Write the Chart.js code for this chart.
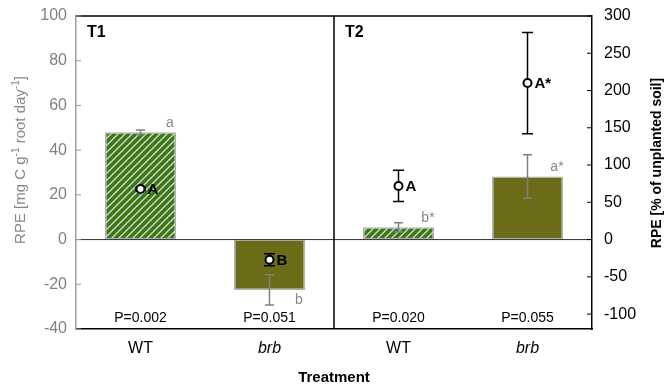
<!DOCTYPE html>
<html>
<head>
<meta charset="utf-8">
<script src="https://cdn.jsdelivr.net/npm/chart.js@4.4.1/dist/chart.umd.min.js"></script>
<style>
  html, body { margin: 0; padding: 0; background: #fff; }
  #wrap { width: 665px; height: 389px; }
</style>
</head>
<body>
<div id="wrap"><canvas id="rpe"></canvas></div>
<script>
// treatments, first pair is T1, second pair is T2
const treatments = ['WT', 'brb', 'WT', 'brb'];
const panels = ['T1', 'T2'];
// RPE [mg C g-1 root day-1] -> bars, left axis
const rpeAbs = [48, -22.5, 5.5, 28.2];
const rpeAbsErr = [1, 6.8, 2, 9.7];
const rpeAbsLetters = ['a', 'b', 'b*', 'a*'];
// RPE [% of unplanted soil] -> circles, right axis
const rpeRel = [68, -27, 72, 210];
const rpeRelErr = [2, 8, 21, 68];
const rpeRelLetters = ['A', 'B', 'A', 'A*'];
const pValues = ['P=0.002', 'P=0.051', 'P=0.020', 'P=0.055'];
const leftTicks = [-40, -20, 0, 20, 40, 60, 80, 100];
const rightTicks = [-100, -50, 0, 50, 100, 150, 200, 250, 300];

const FONT = "'Liberation Sans', Arial, sans-serif";
Chart.defaults.font.family = FONT;

// green with light diagonal stripes for WT
function hatch() {
    const c = document.createElement('canvas');
    c.width = 7; c.height = 7;
    const g = c.getContext('2d');
    g.fillStyle = '#3a7814';
    g.fillRect(0, 0, 7, 7);
    g.strokeStyle = '#dadada';
    g.lineWidth = 1.3;
    g.beginPath();
    g.moveTo(-1, 8); g.lineTo(8, -1);
    g.moveTo(-1, 1); g.lineTo(1, -1);
    g.moveTo(6, 8); g.lineTo(8, 6);
    g.stroke();
    return g.createPattern(c, 'repeat');
}
const wtFill = hatch();
const brbFill = '#6b6b18';

function errBar(ctx, x, y1, y2, half) {
    ctx.beginPath();
    ctx.moveTo(x, y1); ctx.lineTo(x, y2);
    ctx.moveTo(x - half, y1); ctx.lineTo(x + half, y1);
    ctx.moveTo(x - half, y2); ctx.lineTo(x + half, y2);
    ctx.stroke();
}

const overlay = {
    id: 'overlay',
    afterDatasetDraw(chart, args) {
        if (args.index !== 0) return;
        const {ctx, scales: {y}} = chart;
        ctx.save();
        // zero line
        const a = chart.chartArea;
        const y0 = y.getPixelForValue(0);
        ctx.strokeStyle = '#333';
        ctx.lineWidth = 1;
        ctx.beginPath(); ctx.moveTo(a.left, y0); ctx.lineTo(a.right, y0); ctx.stroke();
        // bar error bars + letters
        ctx.strokeStyle = '#808080';
        ctx.lineWidth = 1.5;
        ctx.fillStyle = '#888';
        ctx.font = '14px ' + FONT;
        ctx.textAlign = 'center';
        ctx.textBaseline = 'middle';
        chart.getDatasetMeta(0).data.forEach((bar, i) => {
            const v = rpeAbs[i], e = rpeAbsErr[i];
            errBar(ctx, bar.x, y.getPixelForValue(v + e), y.getPixelForValue(v - e), 4.5);
            const ly = v >= 0 ? bar.y - 9 : bar.y + 10;
            ctx.fillText(rpeAbsLetters[i], bar.x + bar.width / 2 - 6, ly);
        });
        ctx.restore();
    },
    beforeDatasetDraw(chart, args) {
        if (args.index !== 1) return;
        const {ctx, scales: {y2}} = chart;
        ctx.save();
        ctx.strokeStyle = '#000';
        ctx.lineWidth = 1.5;
        chart.getDatasetMeta(1).data.forEach((pt, i) => {
            const v = rpeRel[i], e = rpeRelErr[i];
            errBar(ctx, pt.x, y2.getPixelForValue(v + e), y2.getPixelForValue(v - e), 5.5);
        });
        ctx.restore();
    },
    afterDatasetsDraw(chart) {
        const {ctx, chartArea: a, scales: {x, y, y2}} = chart;
        ctx.save();
        // point letters
        ctx.fillStyle = '#000';
        ctx.font = 'bold 15px ' + FONT;
        ctx.textAlign = 'left';
        ctx.textBaseline = 'middle';
        chart.getDatasetMeta(1).data.forEach((pt, i) => {
            ctx.fillText(rpeRelLetters[i], pt.x + 7, pt.y + 1);
        });

        // frame: top line and panel divider
        const xd = (x.getPixelForValue(1) + x.getPixelForValue(2)) / 2;
        ctx.strokeStyle = '#000';
        ctx.lineWidth = 1.5;
        ctx.beginPath();
        ctx.moveTo(a.left, a.top); ctx.lineTo(a.right, a.top);
        ctx.moveTo(xd, a.top); ctx.lineTo(xd, a.bottom);
        ctx.stroke();

        // inward ticks
        ctx.lineWidth = 1;
        ctx.strokeStyle = '#999';
        leftTicks.forEach(v => {
            const py = y.getPixelForValue(v);
            ctx.beginPath(); ctx.moveTo(a.left, py); ctx.lineTo(a.left + 5, py); ctx.stroke();
        });
        ctx.strokeStyle = '#000';
        rightTicks.forEach(v => {
            const py = y2.getPixelForValue(v);
            ctx.beginPath(); ctx.moveTo(a.right - 5, py); ctx.lineTo(a.right, py); ctx.stroke();
        });

        // panel names
        ctx.font = 'bold 16px ' + FONT;
        ctx.fillText(panels[0], a.left + 11, a.top + 17);
        ctx.fillText(panels[1], xd + 11, a.top + 17);

        // P values
        ctx.font = '14px ' + FONT;
        ctx.textAlign = 'center';
        pValues.forEach((p, i) => ctx.fillText(p, x.getPixelForValue(i), a.bottom - 11));

        // left axis title (with superscripts)
        const parts = [['RPE [mg C g', 0], ['-1', 1], [' root day', 0], ['-1', 1], [']', 0]];
        const fMain = '15px ' + FONT, fSup = '10px ' + FONT;
        let total = 0;
        parts.forEach(([t, s]) => { ctx.font = s ? fSup : fMain; total += ctx.measureText(t).width; });
        ctx.save();
        ctx.translate(21, 160);
        ctx.rotate(-Math.PI / 2);
        ctx.fillStyle = '#888';
        ctx.textAlign = 'left';
        let cx = -total / 2;
        parts.forEach(([t, s]) => {
            ctx.font = s ? fSup : fMain;
            ctx.fillText(t, cx, s ? -5 : 0);
            cx += ctx.measureText(t).width;
        });
        ctx.restore();

        // right axis title
        ctx.save();
        ctx.translate(657, 163);
        ctx.rotate(-Math.PI / 2);
        ctx.font = 'bold 14px ' + FONT;
        ctx.textAlign = 'center';
        ctx.fillStyle = '#000';
        ctx.fillText('RPE [% of unplanted soil]', 0, 0);
        ctx.restore();

        ctx.restore();
    }
};

function fixY(width) {
    return s => {
        s.width = width;
        s.paddingTop = 0;
        s.paddingBottom = 0;
    };
}

new Chart(document.getElementById('rpe'), {
    type: 'bar',
    data: {
        labels: treatments,
        datasets: [
            {
                label: 'RPE (mg C)',
                data: rpeAbs,
                yAxisID: 'y',
                order: 2,
                backgroundColor: [wtFill, brbFill, wtFill, brbFill],
                borderColor: '#b0b0b0',
                borderWidth: 1.5,
                borderSkipped: false,
                barPercentage: 0.55,
                categoryPercentage: 1
            },
            {
                type: 'line',
                label: 'RPE (%)',
                data: rpeRel,
                yAxisID: 'y2',
                order: 1,
                showLine: false,
                pointRadius: 4,
                pointBorderWidth: 2,
                pointBackgroundColor: '#fff',
                pointBorderColor: '#000'
            }
        ]
    },
    options: {
        responsive: true,
        maintainAspectRatio: false,
        devicePixelRatio: 1,
        animation: false,
        layout: { padding: { top: 16 } },
        plugins: {
            legend: { display: false },
            tooltip: { enabled: false }
        },
        scales: {
            x: {
                offset: true,
                grid: { display: false, drawTicks: false },
                border: { color: '#000', width: 1.5 },
                ticks: {
                    color: '#000',
                    padding: 10,
                    font: c => ({ family: FONT, size: 16, style: c.index % 2 ? 'italic' : 'normal' })
                },
                title: {
                    display: true,
                    text: 'Treatment',
                    color: '#000',
                    font: { size: 15, weight: 'bold' },
                    padding: { top: 0, bottom: 2 }
                },
                afterFit: s => { s.height = 60; s.paddingLeft = 0; s.paddingRight = 0; }
            },
            y: {
                position: 'left',
                min: -40,
                max: 100,
                afterBuildTicks: s => { s.ticks = leftTicks.map(v => ({ value: v })); },
                grid: { display: false, drawTicks: false },
                border: { color: '#a0a0a0', width: 1.5 },
                ticks: { color: '#808080', padding: 9, font: { size: 16 } },
                afterFit: fixY(76)
            },
            y2: {
                position: 'right',
                min: -120,
                max: 300,
                afterBuildTicks: s => { s.ticks = rightTicks.map(v => ({ value: v })); },
                grid: { display: false, drawTicks: false },
                border: { color: '#000', width: 1.5 },
                ticks: { color: '#000', padding: 12, font: { size: 16 } },
                afterFit: fixY(73)
            }
        }
    },
    plugins: [overlay]
});
</script>
</body>
</html>
